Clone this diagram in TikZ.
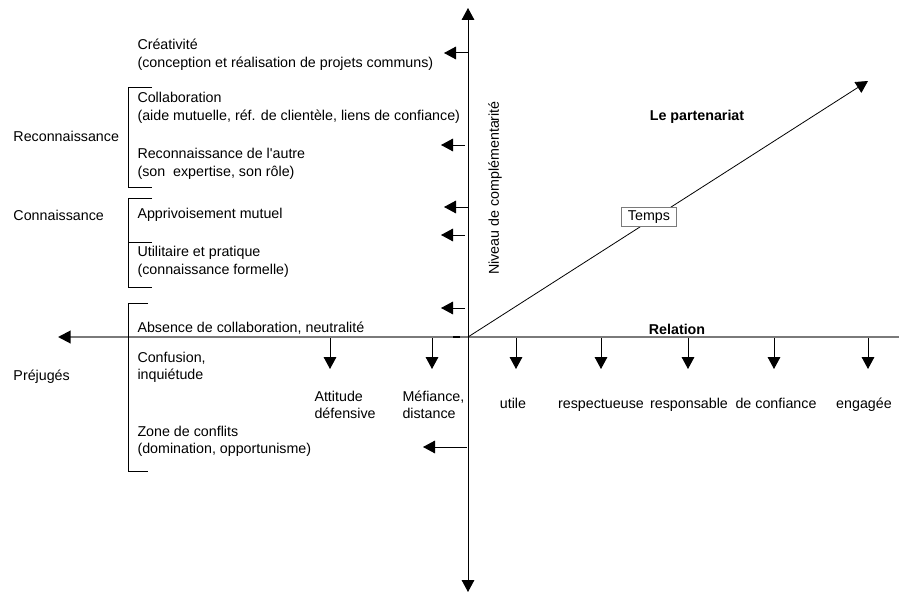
\documentclass[tikz,border=0pt]{standalone}
\usepackage{fontspec}
\setmainfont{Liberation Sans}
\usetikzlibrary{arrows.meta}
\definecolor{gris}{HTML}{7A7A7A}
\tikzset{
	pointe/.style={-{Triangle[length=9pt,width=9.5pt]}},
	texte/.style={anchor=west,align=left,inner sep=0pt},
	centre/.style={anchor=base,inner sep=0pt},
	titre/.style={inner sep=0pt,font=\fontsize{10.7}{13}\selectfont\bfseries},
}
\begin{document}
\begin{tikzpicture}[x=0.75pt,y=-0.75pt,font=\fontsize{10.7}{13.1}\selectfont,line width=0.75pt]
	\useasboundingbox (0,0) rectangle (899,592);
	% axes
	\coordinate (O) at (468,337);
	\coordinate (haut) at (468,8);
	\coordinate (bas) at (468,592);
	\coordinate (gauche) at (58,337);
	\coordinate (droite) at (899,337);
	\coordinate (fin) at (868,81);
	\draw[gris,line width=1.5pt,-{Triangle[length=9.5pt,width=9.5pt,color=black]}] (droite) -- (gauche);
	\draw[{Triangle[length=9pt,width=9.5pt]}-{Triangle[length=9pt,width=9.5pt]}] (bas) -- (haut);
	\draw[line width=1.5pt] (453,337) -- (460,337);
	\draw[pointe,line width=0.6pt] (O) -- (fin);
	\node[draw=gris,fill=white,inner xsep=4.5pt,inner ysep=2.5pt] (temps) at (649,217) {Temps};
	\node[titre] (partenariat) at (697,117) {Le partenariat};
	\node[titre] (relation) at (677,329) {Relation};
	\node[rotate=90,inner sep=0pt] (niveau) at (495,188) {Niveau de complémentarité};
	% fleches vers la gauche
	\foreach \y/\xa/\xb/\n in {53/468/444/a,145/465/441/b,207/468/444/c,235/465/441/d,308/465/441/e,447/467/423/f}{
		\coordinate (d\n) at (\xb,\y);
		\coordinate (s\n) at (\xa,\y);
		\draw[pointe] (s\n) -- (d\n);
	}
	% fleches vers le bas
	\foreach \x/\n in {330/a,432/b,516/c,601/d,688/e,774/f,868/g}{
		\coordinate (h\n) at (\x,338);
		\coordinate (b\n) at (\x,369);
		\draw[pointe] (h\n) -- (b\n);
	}
	% crochets
	\draw (152,88) -- (128,88) -- (128,187) -- (152,187);
	\draw (152,198) -- (128,198) -- (128,287) -- (152,287);
	\draw (128,242) -- (152,242);
	\draw (148,303) -- (128,303) -- (128,471) -- (148,471);
	% textes de gauche
	\node[texte] (recon) at (13,136) {Reconnaissance};
	\node[texte] (conn) at (13,215) {Connaissance};
	\node[texte] (prej) at (13,377) {Préjugés};
	\node[texte] (creat) at (137,54.5) {Créativité\\(conception et réalisation de projets communs)};
	\node[texte] (collab) at (137,108) {Collaboration\\(aide mutuelle, réf. de clientèle, liens de confiance)};
	\node[texte] (autre) at (137,164) {Reconnaissance de l\textquotesingle autre\\(son~~expertise, son rôle)};
	\node[texte] (appriv) at (137,215) {Apprivoisement mutuel};
	\node[texte] (util) at (137,262) {Utilitaire et pratique\\(connaissance formelle)};
	\node[texte] (absence) at (137,328) {Absence de collaboration, neutralité};
	\node[texte] (confus) at (137,367.5) {Confusion,\\inquiétude};
	\node[texte] (zone) at (137,441.5) {Zone de conflits\\(domination, opportunisme)};
	\node[texte] (attitude) at (314,405) {Attitude\\défensive};
	\node[texte] (mefiance) at (402,405) {Méfiance,\\distance};
	% qualites de la relation
	\node[centre] (utile) at (513,408.5) {utile};
	\node[centre] (respect) at (601,408.5) {respectueuse};
	\node[centre] (respons) at (689,408.5) {responsable};
	\node[centre] (confiance) at (776,408.5) {de confiance};
	\node[centre] (engagee) at (864,408.5) {engagée};
\end{tikzpicture}
\end{document}
